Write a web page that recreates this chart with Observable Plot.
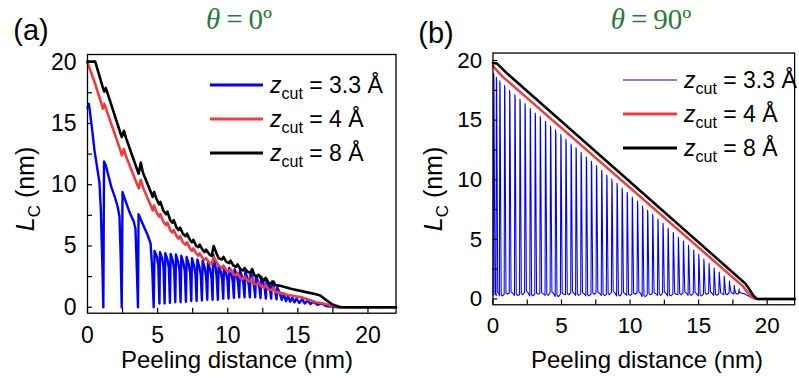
<!DOCTYPE html>
<html><head><meta charset="utf-8">
<script src="https://cdn.jsdelivr.net/npm/d3@7"></script>
<script src="https://cdn.jsdelivr.net/npm/@observablehq/plot@0.6"></script>
<style>
html,body{margin:0;padding:0;background:#fff}
body{width:799px;height:378px;overflow:hidden;position:relative;font-family:"Liberation Sans",Arial,sans-serif;color:#000}
.abs{position:absolute;white-space:nowrap}
.panel{position:absolute;top:0}
.tag{font-size:29px;transform:translate(-50%,-50%)}
.theta{font-family:"Liberation Serif","DejaVu Serif",serif;font-size:29px;color:#2a7a3e;transform:translate(-50%,-50%)}
.theta i{font-style:italic}
.theta .eq{margin:0 6px}
.ylab{font-size:25px;transform:translate(-50%,-50%) rotate(-90deg)}
.ylab sub{font-size:17px;vertical-align:-6px}
.xlab{font-size:24px;transform:translate(-50%,-50%)}
.leg{font-size:23px;display:flex;align-items:center;transform:translateY(-50%)}
.leg .sw{display:inline-block;margin-right:7px}
sub{font-size:16px;vertical-align:-6px;line-height:0}
</style></head><body>
<div id="pa" class="panel" style="left:0"></div>
<div id="pb" class="panel" style="left:400px"></div>
<div id="txt"></div>
<script>
// ---------- data ----------
const xMajor = [0, 5, 10, 15, 20];
const xMinor = [0, 2.5, 5, 7.5, 10, 12.5, 15, 17.5, 20];
const yMajor = [0, 5, 10, 15, 20];
const yMinor = [0, 2.5, 5, 7.5, 10, 12.5, 15, 17.5, 20];
const seriesLabels = ["3.3 Å", "4 Å", "8 Å"];
const seriesColors = ["#0000ff", "#f03c3c", "#000000"];
const panelTags = ["(a)", "(b)"];
const panelAngles = ["0º", "90º"];

// panel (a), theta = 0
const blackA = [[0,20.05],[0.55,20.05],[1.1,17.9],[1.2,17.6],[1.3,17.9],[1.45,17.4],[2.35,14.2],[2.45,13.9],[2.6,14.4],[2.75,13.8],[3.55,11.2],[3.65,10.9],[3.8,11.8],[3.95,11.0],[4.55,9.3],[4.65,9.0],[4.75,9.4],[4.9,8.9],[5.1,8.4],[5.2,8.6],[5.4,7.9],[5.6,7.6],[5.7,7.8],[5.9,7.1],[6.05,6.9],[6.15,7.1],[6.35,6.5],[6.5,6.3],[6.6,6.5],[6.8,6.0],[7.0,5.8],[7.1,6.0],[7.3,5.5],[7.45,5.3],[7.55,5.5],[7.75,5.0],[7.9,4.9],[8.0,5.1],[8.2,4.7],[8.35,4.5],[8.45,4.7],[8.7,4.3],[8.85,4.2],[9.0,5.0],[9.2,4.4],[9.35,4.0],[9.6,3.9],[9.7,4.1],[9.9,3.7],[10.1,3.6],[10.2,3.8],[10.4,3.4],[10.6,3.3],[10.7,3.5],[10.9,3.1],[11.1,3.0],[11.2,3.2],[11.4,2.9],[11.6,2.8],[11.75,3.1],[11.9,2.6],[12.1,2.5],[12.2,2.65],[12.4,2.3],[12.6,2.2],[12.7,2.4],[12.9,2.0],[13.1,1.9],[13.25,2.1],[13.4,1.8],[13.75,1.75],[14.5,1.5],[15.5,1.25],[16.3,1.05],[16.6,0.95],[17.0,0.6],[17.5,0.2],[18.0,0.02],[18.5,0],[22,0]];
const redA = [[0,19.95],[0.5,18.4],[1.0,16.6],[1.1,16.2],[1.2,16.6],[1.35,16.1],[2.35,12.8],[2.45,12.4],[2.6,12.9],[2.75,12.3],[3.55,10.0],[3.65,9.7],[3.8,10.4],[3.95,9.8],[4.55,8.2],[4.65,7.9],[4.75,8.3],[4.9,7.8],[5.1,7.4],[5.2,7.6],[5.4,7.0],[5.6,6.7],[5.7,6.9],[5.9,6.3],[6.05,6.1],[6.15,6.3],[6.35,5.8],[6.5,5.6],[6.6,5.8],[6.8,5.3],[7.0,5.1],[7.1,5.3],[7.3,4.8],[7.45,4.6],[7.55,4.8],[7.75,4.4],[7.9,4.2],[8.0,4.4],[8.2,4.0],[8.35,3.9],[8.45,4.0],[8.7,3.6],[8.85,3.5],[9.0,4.1],[9.2,3.7],[9.35,3.4],[9.6,3.2],[9.7,3.4],[9.9,3.0],[10.1,2.9],[10.2,3.1],[10.4,2.7],[10.6,2.6],[10.7,2.8],[10.9,2.4],[11.1,2.3],[11.2,2.5],[11.4,2.2],[11.6,2.1],[11.75,2.4],[11.9,1.9],[12.1,1.85],[12.2,2.0],[12.4,1.7],[12.6,1.6],[12.7,1.85],[12.9,1.45],[13.1,1.4],[13.25,1.6],[13.4,1.25],[13.8,1.15],[14.3,1.0],[14.8,0.9],[15.3,0.8],[15.8,0.6],[16.3,0.4],[16.8,0.3],[17.3,0.15],[17.8,0.05],[18.2,0],[22,0]];
const blueA = [[0,16.3],[0.1,16.6],[0.3,14.8],[0.5,12.8],[0.7,11.3],[0.85,10.2],[0.95,8.0],[1.05,4.0],[1.13,0],
[1.18,11.9],[1.3,11.6],[1.5,10.7],[1.7,9.8],[1.95,9.0],[2.15,8.2],[2.28,7.4],[2.37,4.0],[2.44,0],
[2.5,9.4],[2.8,8.4],[3.05,7.6],[3.3,7.0],[3.42,6.4],[3.52,3.0],[3.6,0],
[3.64,7.6],[3.9,6.9],[4.25,6.0],[4.5,5.2],[4.62,3.0],[4.72,0],
[4.78,4.6],[4.95,4.1],[5.05,3.4],[5.13,0.3],
[5.17,4.5],[5.32,4.0],[5.42,3.3],[5.5,0.3],
[5.55,4.4],[5.7,3.9],[5.8,3.2],[5.88,0.35],
[5.93,4.35],[6.08,3.8],[6.18,3.1],[6.26,0.4],
[6.31,4.3],[6.46,3.7],[6.56,3.0],[6.64,0.4],
[6.69,4.2],[6.84,3.6],[6.94,2.9],[7.02,0.45],
[7.07,4.1],[7.22,3.5],[7.32,2.8],[7.4,0.5],
[7.45,4.0],[7.6,3.4],[7.7,2.7],[7.78,0.5],
[7.83,3.9],[7.98,3.3],[8.08,2.6],[8.16,0.55],
[8.21,3.8],[8.36,3.2],[8.46,2.5],[8.54,0.6],
[8.59,3.6],[8.74,3.1],[8.84,2.4],[8.92,0.6],
[8.97,4.3],[9.1,3.6],[9.2,2.6],[9.3,0.6],
[9.35,3.4],[9.5,2.9],[9.6,2.3],[9.68,0.7],
[9.73,3.3],[9.88,2.8],[9.98,2.2],[10.06,0.7],
[10.11,3.2],[10.26,2.7],[10.36,2.1],[10.44,0.75],
[10.49,3.1],[10.64,2.6],[10.74,2.0],[10.82,0.8],
[10.87,3.0],[11.02,2.5],[11.12,1.9],[11.2,0.8],
[11.25,2.9],[11.4,2.4],[11.5,1.8],[11.58,0.8],
[11.63,2.9],[11.78,2.3],[11.88,1.7],[11.96,0.8],
[12.01,2.6],[12.16,2.1],[12.26,1.6],[12.34,0.75],
[12.39,2.5],[12.54,2.0],[12.64,1.5],[12.72,0.7],
[12.77,2.3],[12.92,1.9],[13.02,1.4],[13.1,0.7],
[13.15,2.1],[13.3,1.6],[13.4,1.2],[13.48,0.65],
[13.53,1.6],[13.7,1.2],[13.85,0.6],[14.0,1.1],[14.15,0.5],[14.3,0.9],[14.45,0.45],[14.6,0.8],[14.75,0.4],[14.9,0.7],[15.1,0.35],[15.3,0.65],[15.5,0.3],[15.7,0.55],[15.9,0.25],[16.1,0.45],[16.4,0.2],[16.7,0.3],[17.0,0.1],[17.4,0.05],[17.8,0],[22,0]];

// panel (b), theta = 90
const blackB = [[0,19.8],[0.3,19.75],[0.6,19.4],[1.0,18.95],[18.4,1.3],[18.65,0.9],[18.95,0.35],[19.25,0],[22,0]];
const redB = [[0,19.55],[0.3,19.15],[0.7,18.65],[18.2,1.1],[18.5,0.65],[18.8,0.25],[19.0,0.05],[19.3,0],[22,0]];
const blueTeethX = [0.05,0.25,0.5,0.85,1.22,1.6,1.97,2.34,2.72,3.08,3.45,3.83,4.2,4.57,4.95,5.32,5.7,6.06,6.43,6.81,7.18,7.55,7.93,8.3,8.67,9.05,9.42,9.79,10.16,10.54,10.91,11.28,11.65,12.03,12.4,12.77,13.15,13.52,13.89,14.26,14.64,15.01,15.38,15.76,16.13,16.5,16.87,17.25,17.6,17.95];
const blueTeethTop = [18.95,18.6,18.3,17.9,17.5,17.15,16.75,16.4,16.0,15.6,15.3,14.9,14.5,14.2,13.8,13.4,13.0,12.7,12.3,11.9,11.55,11.2,10.8,10.4,10.05,9.7,9.3,8.95,8.55,8.2,7.8,7.45,7.1,6.7,6.35,5.95,5.6,5.2,4.85,4.5,4.1,3.75,3.35,3.0,2.6,2.25,1.9,1.5,1.15,0.85];
const blueTeethBase = [0.3,0.45,0.25,0.4,0.5,0.3,0.35,0.55,0.25,0.4,0.45,0.3,0.5,0.2,0.4,0.35,0.5,0.3,0.45,0.25,0.4,0.5,0.3,0.35,0.55,0.25,0.45,0.3,0.4,0.5,0.2,0.35,0.45,0.3,0.5,0.25,0.4,0.35,0.5,0.3,0.45,0.25,0.4,0.5,0.3,0.45,0.35,0.5,0.4,0.45];
const blueBTail = [[18.3,0.45],[18.7,0.2],[19.1,0],[22,0]];

// ---------- build tables ----------
const toRows = arr => arr.map(([x, y]) => ({x, y}));
const blueB = [];
blueTeethX.forEach((x, i) => {
  blueB.push({x: Math.max(0, x - 0.03), y: blueTeethBase[i]});
  blueB.push({x, y: blueTeethTop[i]});
  blueB.push({x: x + 0.02, y: blueTeethTop[i] - 0.3});
  blueB.push({x: x + 0.1, y: blueTeethBase[i] + 0.1});
  blueB.push({x: x + 0.2, y: blueTeethBase[i]});
});
blueBTail.forEach(([x, y]) => blueB.push({x, y}));

function panel(series, widths, W, mL, mR) {
  return Plot.plot({
    width: W, height: 378,
    marginLeft: mL, marginRight: mR, marginTop: 54, marginBottom: 65.3,
    x: {domain: [0, 22]},
    y: {domain: [-0.49, 20.63]},
    style: {fontFamily: "'Liberation Sans', Arial, sans-serif", fontSize: "23px", color: "#000", background: "transparent", overflow: "visible"},
    marks: [
      ...series.map((d, i) => Plot.line(d, {x: "x", y: "y", stroke: seriesColors[i], strokeWidth: widths[i], strokeLinejoin: "round"})),
      Plot.frame({stroke: "#000", strokeWidth: 1.3}),
      Plot.axisX({ticks: xMinor, tickSize: 5, dy: -5, fill: "none", label: null, strokeWidth: 1.2}),
      Plot.axisX({ticks: xMajor, tickSize: 0, tickPadding: 13, label: null, tickFormat: d => String(d)}),
      Plot.axisY({ticks: yMinor, tickSize: 5, dx: 5, fill: "none", label: null, strokeWidth: 1.2}),
      Plot.axisY({ticks: yMajor, tickSize: 0, tickPadding: 11, label: null, tickFormat: d => String(d)})
    ]
  });
}

document.getElementById("pa").append(panel([toRows(blueA), toRows(redA), toRows(blackA)], [2.4, 2.6, 2.6], 400, 87, 4.5));
document.getElementById("pb").append(panel([blueB, toRows(redB), toRows(blackB)], [1.1, 2.6, 2.6], 410, 95, 5));

// ---------- text overlays ----------
const txt = document.getElementById("txt");
function add(html, cls, left, top) {
  const d = document.createElement("div");
  d.className = "abs " + cls;
  d.style.left = left + "px"; d.style.top = top + "px";
  d.innerHTML = html;
  txt.append(d);
  return d;
}
const panels = [
  {tag: [31, 30], theta: [239, 19], ylab: [25, 189], xlab: [237, 360], legLine: 210, legW: 53, legRows: [85, 119, 153], blueW: 2.4},
  {tag: [436, 33], theta: [651, 19], ylab: [433, 189], xlab: [647, 360], legLine: 623, legW: 54, legRows: [80, 114, 148], blueW: 1}
];
panels.forEach((p, k) => {
  add(panelTags[k], "tag", p.tag[0], p.tag[1]);
  add(`<i>θ</i><span class="eq">=</span>${panelAngles[k]}`, "theta", p.theta[0], p.theta[1]);
  add(`<i>L</i><sub>C</sub> (nm)`, "ylab", p.ylab[0], p.ylab[1]);
  add("Peeling distance (nm)", "xlab", p.xlab[0], p.xlab[1]);
  seriesLabels.forEach((lab, i) => {
    const w = i === 0 ? p.blueW : 2.6;
    add(`<span class="sw" style="width:${p.legW}px;height:${w}px;background:${seriesColors[i]}"></span><span><i>z</i><sub>cut</sub> = ${lab}</span>`, "leg", p.legLine, p.legRows[i]);
  });
});
</script>
</body></html>
